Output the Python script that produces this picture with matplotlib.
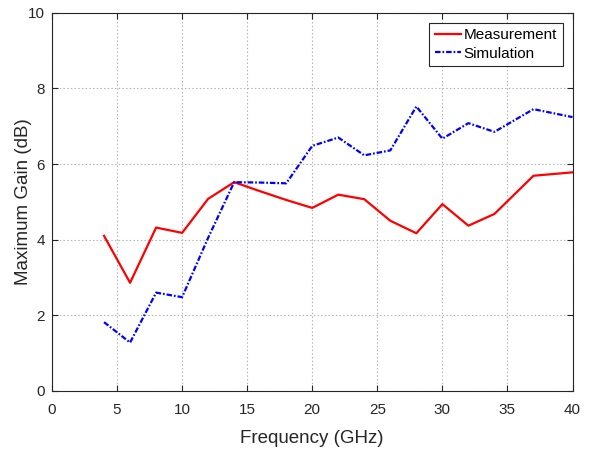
import numpy as np
import matplotlib.pyplot as plt

plt.rcParams['font.family'] = ['Liberation Sans', 'DejaVu Sans']
plt.rcParams['lines.scale_dashes'] = False

# frequency points (GHz)
freq = [4, 6, 8, 10, 12, 14, 16, 18, 20, 22, 24, 26, 28, 30, 32, 34, 37, 40]
# maximum gain (dB)
measured = [4.10, 2.86, 4.32, 4.18, 5.08, 5.52, 5.28, 5.05, 4.84, 5.19, 5.07,
            4.50, 4.17, 4.94, 4.37, 4.68, 5.69, 5.78]
simulated = [1.82, 1.28, 2.60, 2.48, 4.05, 5.52, 5.51, 5.49, 6.48, 6.70, 6.23,
             6.36, 7.52, 6.67, 7.08, 6.85, 7.45, 7.24]

fig = plt.figure(figsize=(5.95, 4.51), dpi=100)
ax = fig.add_axes([52/595, 1 - 391/451, 520.5/595, 378.3/451])

ax.plot(freq, measured, '-', color='#ff0000', lw=1.6, label='Measurement')
ax.plot(freq, simulated, color='#0000ff', lw=1.6, label='Simulation',
        dashes=(4.0, 1.4, 1.2, 1.4))

ax.set_xlim(0, 40)
ax.set_ylim(0, 10)
ax.set_xticks(np.arange(0, 41, 5))
ax.set_yticks(np.arange(0, 11, 2))
ax.grid(True, color='#b0b0b0', linestyle=':', linewidth=0.8)
ax.tick_params(direction='in', top=True, right=True, labelsize=11,
               colors='#262626', length=4)
ax.tick_params(axis='x', pad=9)
ax.tick_params(axis='y', pad=5)
for s in ax.spines.values():
    s.set_color('#262626')
    s.set_linewidth(0.8)

ax.set_xlabel('Frequency (GHz)', fontsize=13.5, color='#262626', va='baseline')
ax.set_ylabel('Maximum Gain (dB)', fontsize=13.5, color='#262626', va='baseline')
ax.xaxis.set_label_coords(0.5, -0.1367)
ax.yaxis.set_label_coords(-0.0455, 0.5)

leg = ax.legend(loc='upper right', fontsize=11, fancybox=False, framealpha=1,
                edgecolor='#262626', handlelength=1.7, handletextpad=0.2,
                borderpad=0.35, labelspacing=0.3, borderaxespad=0.65)
leg.get_frame().set_linewidth(0.8)

fig.savefig('out.png', dpi=100)
